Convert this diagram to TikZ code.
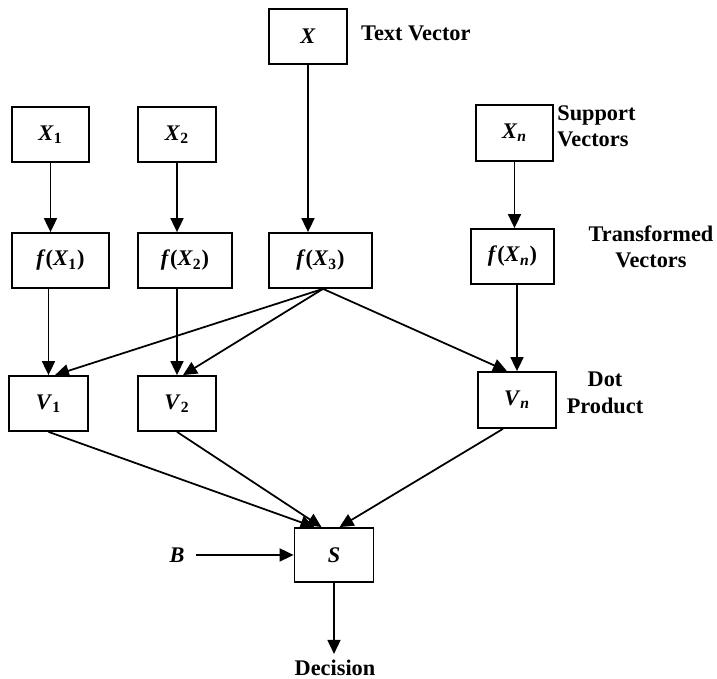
\documentclass[tikz,border=0pt]{standalone}
\usepackage{fontspec}
\setmainfont{Liberation Serif}
\usetikzlibrary{arrows.meta}

\begin{document}
\begin{tikzpicture}[
   box/.style={draw, line width=1pt, minimum width=1.56cm, minimum height=1.1cm, inner sep=0pt},
   lbl/.style={font=\fontsize{12.7}{15}\selectfont\bfseries},
   arr/.style={line width=1pt, -{Triangle[length=0.28cm,width=0.26cm]}},
   every node/.append style={font=\fontsize{12.7}{15}\selectfont\bfseries}
]
   \useasboundingbox (0,0) rectangle (14.34,13.58);

   \node (X) at (6.16,12.85) [box] {\textit{X}};
   \node (TextVector) at (7.10,12.92) [lbl, anchor=west] {Text Vector};

   \node (X1) at (1.01,10.89) [box, minimum width=1.54cm] {\textit{X}\textsubscript{1}};
   \node (X2) at (3.54,10.89) [box] {\textit{X}\textsubscript{2}};
   \node (Xn) at (10.29,10.92) [box, minimum width=1.54cm, minimum height=1.12cm] {\textit{X}\textsubscript{\textit{n}}};
   \node (Support) at (11.14,11.06) [lbl, anchor=west, align=left, inner sep=0pt] {Support\\Vectors};

   \node (fX1) at (1.21,8.37) [box, minimum width=1.94cm] {\textit{f}(\textit{X}\textsubscript{1})};
   \node (fX2) at (3.70,8.37) [box, minimum width=1.88cm] {\textit{f}(\textit{X}\textsubscript{2})};
   \node (fX3) at (6.41,8.37) [box, minimum width=2.06cm] {\textit{f}(\textit{X}\textsubscript{3})};
   \node (fXn) at (10.25,8.45) [box, minimum width=1.66cm] {\textit{f}(\textit{X}\textsubscript{\textit{n}})};
   \node (Transformed) at (13.02,8.64) [lbl, align=center, inner sep=0pt] {Transformed\\Vectors};

   \node (V1) at (0.97,5.51) [box, minimum width=1.58cm] {\textit{V}\textsubscript{1}};
   \node (V2) at (3.54,5.51) [box] {\textit{V}\textsubscript{2}};
   \node (Vn) at (10.34,5.58) [box, minimum height=1.12cm] {\textit{V}\textsubscript{\textit{n}}};
   \node (DotProduct) at (12.10,5.72) [lbl, align=center, inner sep=0pt] {Dot\\Product};

   \node (S) at (6.68,2.48) [box, minimum width=1.58cm, minimum height=1.08cm] {\textit{S}};
   \node (B) at (3.54,2.48) [] {\textit{B}};
   \node (Decision) at (6.70,0.22) [] {Decision};

   \draw [arr] (X1.south) -- (X1.south |- fX1.north);
   \draw [arr] (X2.south) -- (X2.south |- fX2.north);
   \draw [arr] (X.south) -- (X.south |- fX3.north);
   \draw [arr] (Xn.south) -- (Xn.south |- fXn.north);

   \draw [arr] (V1.north |- fX1.south) -- (V1.north);
   \draw [arr] (V2.north |- fX2.south) -- (V2.north);
   \draw [arr] (Vn.north |- fXn.south) -- (Vn.north);

   \draw [arr] ([xshift=0.05cm]fX3.south) -- ([xshift=0.13cm]V1.north);
   \draw [arr] ([xshift=0.05cm]fX3.south) -- ([xshift=0.12cm]V2.north);
   \draw [arr] ([xshift=0.05cm]fX3.south) -- ([xshift=-0.2cm]Vn.north);

   \draw [arr] (V1.south) -- ([xshift=-0.39cm]S.north);
   \draw [arr] (V2.south) -- ([xshift=-0.25cm]S.north);
   \draw [arr] ([xshift=-0.28cm]Vn.south) -- ([xshift=0.11cm]S.north);

   \draw [arr] ([xshift=0.1cm]B.east) -- (S.west);
   \draw [arr] (S.south) -- (S.south |- Decision.north);

\end{tikzpicture}
\end{document}
